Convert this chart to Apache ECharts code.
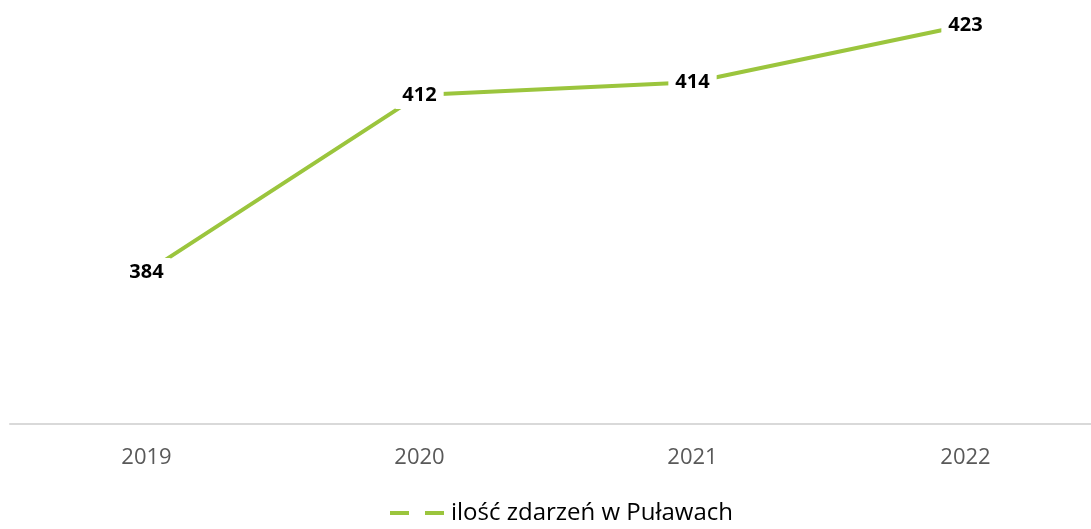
<!DOCTYPE html>
<html>
<head>
<meta charset="utf-8">
<script src="https://cdn.jsdelivr.net/npm/echarts@6/dist/echarts.min.js"></script>
<style>
  html, body { margin: 0; padding: 0; background: #fff; }
  #chart { width: 1091px; height: 529px; }
</style>
</head>
<body>
<div id="chart"></div>
<script>
// dane z wykresu
const years = ['2019', '2020', '2021', '2022'];
const events = [384, 412, 414, 423];
const seriesName = 'ilość zdarzeń w Puławach';

const myChart = echarts.init(document.getElementById('chart'));

const option = {
  animation: false,
  textStyle: {
    fontFamily: 'Open Sans'
  },
  grid: {
    left: 10,
    width: 1092,
    top: 0,
    height: 424,
    outerBoundsMode: 'none'
  },
  legend: {
    top: 496,
    left: 385,
    itemWidth: 54,
    itemHeight: 4,
    itemGap: 10,
    icon: 'path://M0,0h19v4h-19z M35,0h19v4h-19z',
    itemStyle: { color: '#9bc53d' },
    textStyle: {
      color: '#000',
      fontSize: 24,
      padding: [0, 0, 0, 2]
    },
    data: [seriesName]
  },
  xAxis: {
    type: 'category',
    data: years,
    boundaryGap: true,
    axisLine: {
      lineStyle: { color: '#d9d9d9', width: 2 }
    },
    axisTick: { show: false },
    axisLabel: {
      color: '#595959',
      fontSize: 22,
      margin: 23
    }
  },
  yAxis: {
    type: 'value',
    min: 360,
    max: 427,
    show: false,
    splitLine: { show: false }
  },
  series: [
    {
      name: seriesName,
      type: 'line',
      data: events,
      symbol: 'circle',
      symbolSize: 1,
      itemStyle: { color: 'rgba(0,0,0,0)' },
      lineStyle: { color: '#9bc53d', width: 4 },
      label: {
        show: true,
        position: 'inside',
        color: '#000',
        fontWeight: 'bold',
        fontSize: 20,
        backgroundColor: '#fff',
        padding: [4, 7]
      }
    }
  ]
};

myChart.setOption(option);
</script>
</body>
</html>
